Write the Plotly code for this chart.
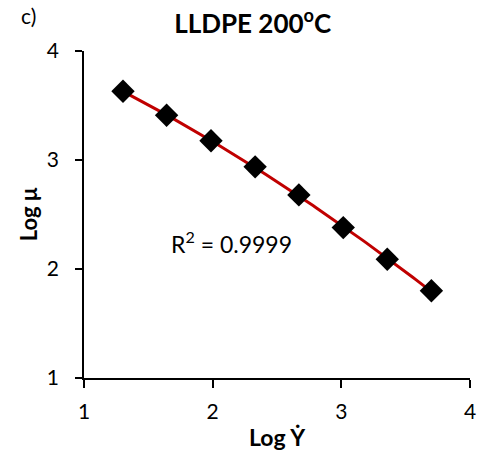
import numpy as np
import plotly.graph_objects as go

log_shear = [1.303, 1.642, 1.987, 2.33, 2.67, 3.015, 3.357, 3.70]
log_visc = [3.631, 3.41, 3.176, 2.937, 2.68, 2.38, 2.09, 1.80]

coef = np.polyfit(log_shear, log_visc, 2)
xf = np.linspace(min(log_shear), max(log_shear), 100)
yf = np.polyval(coef, xf)

FONT = "Lato"

fig = go.Figure()
fig.add_trace(go.Scatter(x=xf, y=yf, mode="lines",
                         line=dict(color="#C00000", width=3),
                         hoverinfo="skip", showlegend=False))
fig.add_trace(go.Scatter(x=log_shear, y=log_visc, mode="markers",
                         marker=dict(symbol="diamond", size=18, color="black"),
                         showlegend=False))

fig.update_layout(
    width=481, height=463,
    margin=dict(l=84, r=11, t=51, b=85, autoexpand=False),
    plot_bgcolor="white", paper_bgcolor="white",
    font=dict(family=FONT, size=21, color="black"),
    title=dict(text="<b>LLDPE 200<sup>o</sup>C</b>", x=0.437, xanchor="center",
               xref="paper", y=0.948, yanchor="middle",
               font=dict(size=26, family=FONT)),
    xaxis=dict(range=[1, 4], dtick=1, showgrid=False, zeroline=False,
               showline=True, linecolor="black", linewidth=1.5,
               ticks="outside", ticklen=8, tickcolor="black", tickwidth=1.5,
               ticklabelstandoff=6, automargin=False,
               title=dict(text="<b>Log Ẏ</b>", font=dict(size=23), standoff=8)),
    yaxis=dict(range=[1, 4], dtick=1, showgrid=False, zeroline=False,
               showline=True, linecolor="black", linewidth=1.5,
               ticks="outside", ticklen=7, tickcolor="black", tickwidth=1.5,
               ticklabelstandoff=12, automargin=False,
               title=dict(text="<b>Log μ</b>", font=dict(size=22), standoff=3)),
    annotations=[
        dict(text="c)", xref="paper", yref="paper", x=-0.169, y=1.11,
             xanchor="left", yanchor="middle", showarrow=False,
             font=dict(size=21)),
        dict(text="R<sup>2</sup> = 0.9999", xref="x", yref="y", x=2.15, y=2.24,
             xanchor="center", yanchor="middle", showarrow=False,
             font=dict(size=23)),
    ],
)

fig.write_html("out.html", config={"displayModeBar": False},
               post_script="document.body.style.margin='0';")
